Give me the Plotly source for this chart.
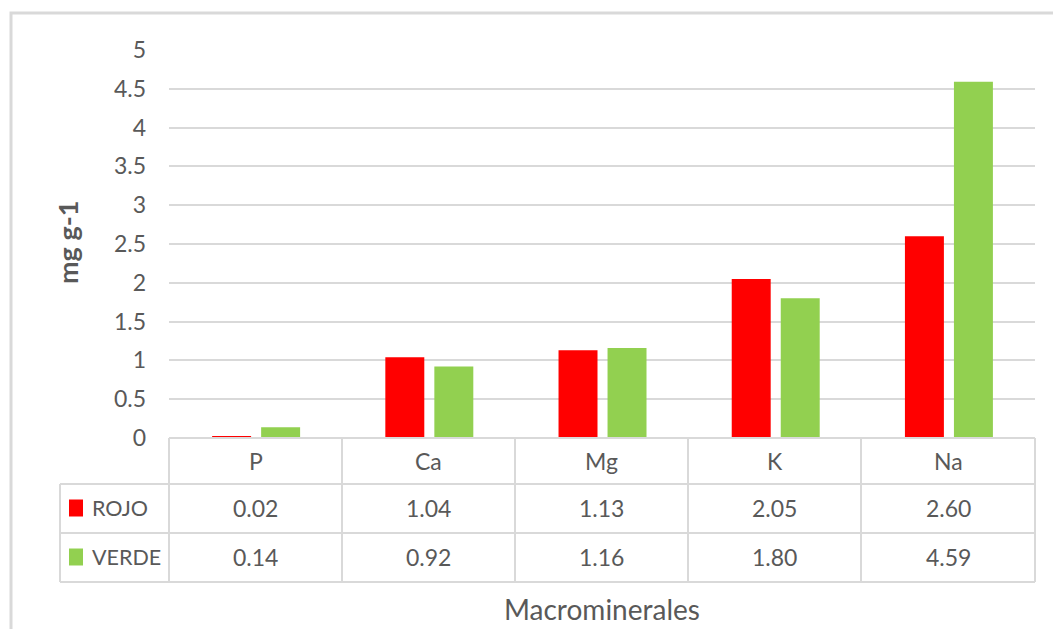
import plotly.graph_objects as go

# Macromineral content per sample (mg g-1)
categories = ["P", "Ca", "Mg", "K", "Na"]
series_names = ["ROJO", "VERDE"]
rojo = [0.02, 1.04, 1.13, 2.05, 2.60]
verde = [0.14, 0.92, 1.16, 1.80, 4.59]
series_values = [rojo, verde]
series_colors = ["#FF0000", "#92D050"]
y_ticks = [0, 0.5, 1, 1.5, 2, 2.5, 3, 3.5, 4, 4.5, 5]

W, H = 1053, 629
PL, PR, PT, PB = 169, 1035, 50, 438   # plot area in pixels
TEXT = "#595959"
LINE = "#D9D9D9"
FONT = "Lato"


def px(x):
    return (x - PL) / (PR - PL)


def py(y):
    return (PB - y) / (PB - PT)


fig = go.Figure()
bar_w = 0.225
offsets = [-0.251, 0.032]
for name, vals, col, off in zip(series_names, series_values, series_colors, offsets):
    fig.add_trace(go.Bar(
        x=categories, y=vals, name=name, marker_color=col,
        marker_line_width=0, width=bar_w, offset=off, showlegend=False,
    ))

shapes = []
annotations = []

# outer chart frame
shapes.append(dict(type="rect", xref="paper", yref="paper",
                   x0=px(11), x1=px(1070), y0=py(13), y1=py(650),
                   line=dict(color=LINE, width=3), fillcolor="rgba(0,0,0,0)"))

# data table grid
row_lines = [438, 484, 533, 582]
col_lines = [169, 342, 515, 688, 861, 1035]
for i, yy in enumerate(row_lines):
    x0 = 169 if i == 0 else 60
    shapes.append(dict(type="line", xref="paper", yref="paper",
                       x0=px(x0), x1=px(1035), y0=py(yy), y1=py(yy),
                       line=dict(color=LINE, width=2)))
for xx in col_lines:
    shapes.append(dict(type="line", xref="paper", yref="paper",
                       x0=px(xx), x1=px(xx), y0=py(438), y1=py(582),
                       line=dict(color=LINE, width=2)))
shapes.append(dict(type="line", xref="paper", yref="paper",
                   x0=px(60), x1=px(60), y0=py(484), y1=py(582),
                   line=dict(color=LINE, width=2)))

# category header row
for i, c in enumerate(categories):
    cx = (col_lines[i] + col_lines[i + 1]) / 2
    annotations.append(dict(xref="paper", yref="paper", x=px(cx), y=py(461),
                            text=c, showarrow=False, xanchor="center", yanchor="middle",
                            font=dict(family=FONT, size=23, color=TEXT)))

# series rows: legend key, name and values
row_centers = [508, 557]
for name, vals, col, ry in zip(series_names, series_values, series_colors, row_centers):
    shapes.append(dict(type="rect", xref="paper", yref="paper",
                       x0=px(69), x1=px(83), y0=py(ry - 8.5), y1=py(ry + 8.5),
                       fillcolor=col, line=dict(width=0)))
    annotations.append(dict(xref="paper", yref="paper", x=px(90), y=py(ry),
                            text=name, showarrow=False, xanchor="left", yanchor="middle",
                            font=dict(family=FONT, size=21.5, color=TEXT)))
    for i, v in enumerate(vals):
        cx = (col_lines[i] + col_lines[i + 1]) / 2
        annotations.append(dict(xref="paper", yref="paper", x=px(cx), y=py(ry),
                                text=f"{v:.2f}", showarrow=False, xanchor="center",
                                yanchor="middle",
                                font=dict(family=FONT, size=23, color=TEXT)))

# axis titles
annotations.append(dict(xref="paper", yref="paper", x=px(602), y=py(609),
                        text="Macrominerales", showarrow=False, xanchor="center",
                        yanchor="middle", font=dict(family=FONT, size=28, color=TEXT)))
annotations.append(dict(xref="paper", yref="paper", x=px(67), y=py(243),
                        text="<b>mg g-1</b>", showarrow=False, textangle=-90,
                        xanchor="center", yanchor="middle",
                        font=dict(family=FONT, size=27, color=TEXT)))

fig.update_layout(
    width=W, height=H,
    margin=dict(l=PL, r=W - PR, t=PT, b=H - PB, pad=0),
    paper_bgcolor="white", plot_bgcolor="white",
    barmode="overlay",
    shapes=shapes, annotations=annotations,
    xaxis=dict(type="category", range=[-0.5, 4.5], showticklabels=False,
               showgrid=False, zeroline=False, showline=False, fixedrange=True),
    yaxis=dict(range=[0, 5], tickvals=y_ticks, showgrid=True, gridcolor=LINE,
               gridwidth=1.5, zeroline=False, showline=False,
               ticklabelstandoff=22,
               tickfont=dict(family=FONT, size=23, color=TEXT), fixedrange=True),
)

fig.write_html("out.html")
